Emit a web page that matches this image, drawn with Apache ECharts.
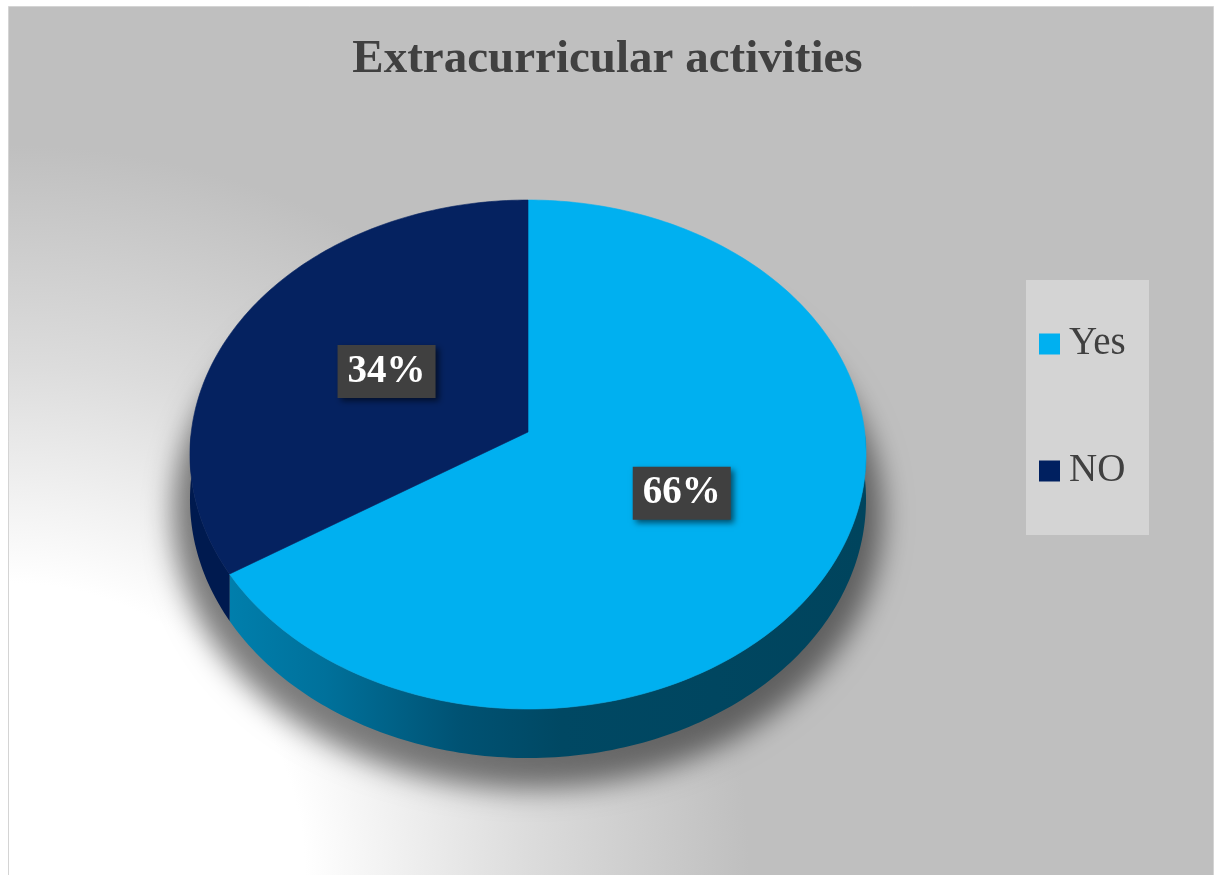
<!DOCTYPE html>
<html>
<head>
<meta charset="utf-8">
<script src="https://cdn.jsdelivr.net/npm/echarts@6/dist/echarts.min.js"></script>
<style>
  html, body { margin: 0; padding: 0; background: #ffffff; }
  #chart { width: 1215px; height: 875px; }
</style>
</head>
<body>
<div id="chart"></div>
<script>
// Chart content
const chartTitle = 'Extracurricular activities';
const categories = ['Yes', 'NO'];
const shares = [66, 34];

// Palette: top faces, side walls, legend swatches
const topColors = ['#00b0f0', '#052260'];
const legendColors = ['#00b0f0', '#002060'];
const wallFills = [
  {
    type: 'linear', x: 190, y: 0, x2: 866, y2: 0, global: true,
    colorStops: [
      { offset: 0, color: '#0084b3' },
      { offset: 0.2, color: '#00719b' },
      { offset: 0.4, color: '#005273' },
      { offset: 0.55, color: '#004863' },
      { offset: 1, color: '#00445d' }
    ]
  },
  '#001a4f'
];

// Tilted pie geometry (perspective projection of a flat disc)
const PIE = { cx: 528, cy: 432, a: 336.7, b: 252.5, p: 0.0884, depth: 44.7 };
const TWO_PI = Math.PI * 2;
const total = shares.reduce((s, v) => s + v, 0);

// angle: clockwise from 12 o'clock; r: fraction of radius; drop: vertical offset (pie thickness)
function project(angle, r, drop) {
  const u = r * Math.sin(angle);
  const v = -r * Math.cos(angle);
  const s = 1 / (1 - PIE.p * v);
  return [PIE.cx + PIE.a * u * s, PIE.cy + (PIE.b * v + drop) * s];
}

function arcPoints(a0, a1, r, drop) {
  const n = Math.max(2, Math.ceil((a1 - a0) / (Math.PI / 180)));
  const pts = [];
  for (let k = 0; k <= n; k++) {
    pts.push(project(a0 + (a1 - a0) * k / n, r, drop));
  }
  return pts;
}

function startShare(i) {
  let s = 0;
  for (let k = 0; k < i; k++) s += shares[k];
  return s;
}

function makeSliceRenderer(i) {
  return function (params, api) {
    const value = api.value(0);
    const a0 = startShare(i) / total * TWO_PI;
    const a1 = a0 + value / total * TWO_PI;
    const children = [];

    // Side wall: only the front half of the rim faces the viewer
    const lo = Math.max(a0, Math.PI / 2);
    const hi = Math.min(a1, Math.PI * 1.5);
    if (hi > lo) {
      const wall = arcPoints(lo, hi, 1, 0).concat(arcPoints(lo, hi, 1, PIE.depth).reverse());
      children.push({
        type: 'polygon',
        shape: { points: wall },
        style: { fill: wallFills[i], stroke: null },
        z2: 1
      });
    }

    // Top face
    const face = [project(0, 0, 0)].concat(arcPoints(a0, a1, 1, 0));
    children.push({
      type: 'polygon',
      shape: { points: face },
      style: { fill: topColors[i], stroke: topColors[i], lineWidth: 0.6 },
      z2: 2
    });

    // Percentage label at mid-angle, half radius
    const mid = project((a0 + a1) / 2, 0.5, 0);
    children.push({
      type: 'text',
      x: mid[0] + 3,
      y: mid[1] - 1,
      style: {
        text: value + '%',
        fill: '#ffffff',
        fontFamily: '"Liberation Serif", "Times New Roman", serif',
        fontWeight: 'bold',
        fontSize: 39,
        align: 'center',
        verticalAlign: 'middle',
        backgroundColor: '#404040',
        padding: [8, 10, 6, 10],
        shadowColor: 'rgba(0,0,0,0.55)',
        shadowBlur: 6,
        shadowOffsetX: 3,
        shadowOffsetY: 3
      },
      z2: 10
    });

    return { type: 'group', children: children };
  };
}

// Soft shadow cast around the lower part of the disc
function renderShadow(params, api) {
  const OFF = 3000;
  const ring = arcPoints(0, TWO_PI, 1.05, PIE.depth + 14).map(p => [p[0] - OFF, p[1]]);
  return {
    type: 'polygon',
    shape: { points: ring },
    style: {
      fill: '#000000',
      shadowColor: 'rgba(0,0,0,0.5)',
      shadowBlur: 28,
      shadowOffsetX: OFF,
      shadowOffsetY: 0
    }
  };
}

const sliceSeries = categories.map((name, i) => ({
  type: 'custom',
  name: name,
  coordinateSystem: 'none',
  z: 3,
  silent: true,
  itemStyle: { color: legendColors[i] },
  data: [shares[i]],
  renderItem: makeSliceRenderer(i)
}));

const chart = echarts.init(document.getElementById('chart'), null, { renderer: 'canvas' });

chart.setOption({
  backgroundColor: '#ffffff',
  animation: false,
  title: {
    text: chartTitle,
    left: 'center',
    top: 31,
    textStyle: {
      fontFamily: '"Liberation Serif", "Times New Roman", serif',
      fontWeight: 'bold',
      fontSize: 47,
      color: '#404040'
    }
  },
  legend: {
    data: categories,
    orient: 'vertical',
    left: 1039,
    top: 324,
    padding: 0,
    itemWidth: 21,
    itemHeight: 21,
    itemGap: 87,
    icon: 'rect',
    selectedMode: false,
    textStyle: {
      fontFamily: '"Liberation Serif", "Times New Roman", serif',
      fontSize: 39,
      lineHeight: 40,
      color: '#404040',
      padding: [0, 0, 0, 4]
    }
  },
  graphic: [
    {
      type: 'rect',
      z: -10,
      shape: { x: 8.5, y: 6.5, width: 1205, height: 870 },
      style: { fill: '#bfbfbf', stroke: '#d4d4d4', lineWidth: 1 }
    },
    {
      type: 'rect',
      z: -9,
      x: 9,
      y: 875,
      scaleX: 740,
      scaleY: 730,
      shape: { x: 0, y: -1, width: 1, height: 1 },
      style: {
        fill: {
          type: 'radial', x: 0, y: 1, r: 1,
          colorStops: [
            { offset: 0, color: '#ffffff' },
            { offset: 0.4, color: '#ffffff' },
            { offset: 0.7, color: '#dcdcdc' },
            { offset: 1, color: '#bfbfbf' }
          ]
        }
      }
    },
    {
      type: 'rect',
      z: -8,
      shape: { x: 1026, y: 280, width: 123, height: 255 },
      style: { fill: '#d4d4d4' }
    }
  ],
  series: [
    {
      type: 'custom',
      name: 'shadow',
      coordinateSystem: 'none',
      z: 1,
      silent: true,
      data: [0],
      renderItem: renderShadow
    }
  ].concat(sliceSeries)
});
</script>
</body>
</html>
